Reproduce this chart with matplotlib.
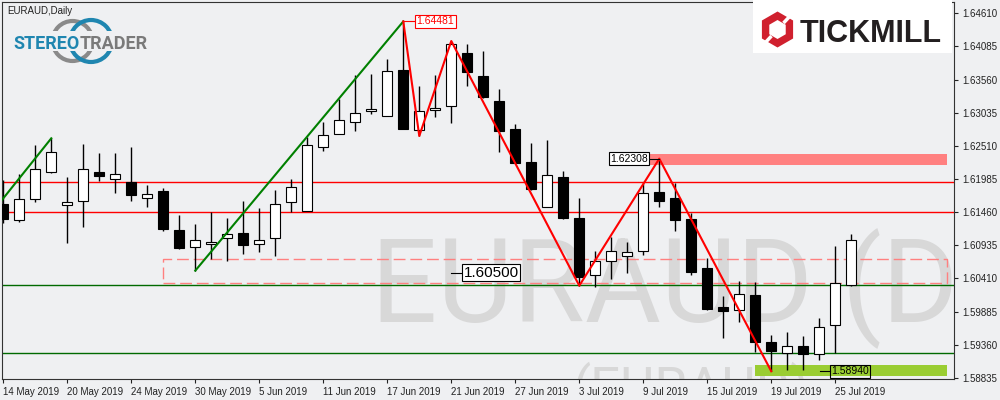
import numpy as np
import matplotlib
matplotlib.use("Agg")
import matplotlib.pyplot as plt
from matplotlib.patches import Rectangle, Circle, RegularPolygon

plt.rcParams['font.family'] = ['Liberation Sans', 'DejaVu Sans']

# EURAUD daily candles, 14 May 2019 .. 26 Jul 2019
opens = [1.61590, 1.61337, 1.61664, 1.62092, 1.61574, 1.61633, 1.62092, 1.61981, 1.61938, 1.61680,
         1.61796, 1.61178, 1.60904, 1.60952, 1.61047, 1.61126, 1.60952, 1.61047, 1.61626, 1.61484,
         1.62497, 1.62694, 1.62884, 1.63068, 1.62988, 1.63712, 1.62762, 1.63083, 1.63137, 1.63981,
         1.63617, 1.63221, 1.62778, 1.62255, 1.61547, 1.62018, 1.61373, 1.60461, 1.60682, 1.60771,
         1.60841, 1.61780, 1.61685, 1.61352, 1.60576, 1.59963, 1.59911, 1.60149, 1.59409, 1.59225,
         1.59336, 1.59210, 1.59669, 1.60307]
highs = [1.61970, 1.62065, 1.62524, 1.62630, 1.62013, 1.62540, 1.62398, 1.62398, 1.62493, 1.61891,
         1.61839, 1.61416, 1.61273, 1.61458, 1.61368, 1.61637, 1.61527, 1.61812, 1.61981, 1.62656,
         1.62893, 1.63248, 1.63633, 1.63649, 1.63882, 1.64481, 1.63459, 1.63633, 1.64171, 1.64129,
         1.64013, 1.63411, 1.62857, 1.62561, 1.62604, 1.62117, 1.61680, 1.60846, 1.61072, 1.60988,
         1.61922, 1.62308, 1.61918, 1.61452, 1.60730, 1.60133, 1.60375, 1.60350, 1.59515, 1.59568,
         1.59499, 1.59780, 1.60930, 1.61115]
lows = [1.61289, 1.61310, 1.61626, 1.62073, 1.60977, 1.61230, 1.61959, 1.61759, 1.61642, 1.61547,
        1.61167, 1.60882, 1.60534, 1.60714, 1.60692, 1.60803, 1.60835, 1.60766, 1.61468, 1.61484,
        1.62429, 1.62694, 1.62751, 1.63015, 1.62988, 1.62773, 1.62667, 1.62972, 1.62877, 1.63463,
        1.63264, 1.62418, 1.62234, 1.61812, 1.61547, 1.61352, 1.60296, 1.60271, 1.60397, 1.60502,
        1.60782, 1.61547, 1.61167, 1.60470, 1.59916, 1.59473, 1.59726, 1.59241, 1.58940, 1.58961,
        1.58961, 1.59119, 1.59235, 1.60296]
closes = [1.61348, 1.61664, 1.62139, 1.62409, 1.61614, 1.62139, 1.62038, 1.62060, 1.61737, 1.61744,
          1.61199, 1.60898, 1.61015, 1.60983, 1.61110, 1.60945, 1.61015, 1.61585, 1.61854, 1.62524,
          1.62683, 1.62920, 1.63026, 1.63094, 1.63691, 1.62773, 1.63058, 1.63110, 1.64119, 1.63685,
          1.63289, 1.62751, 1.62234, 1.61827, 1.62044, 1.61373, 1.60426, 1.60682, 1.60841, 1.60825,
          1.61764, 1.61642, 1.61341, 1.60518, 1.59932, 1.59900, 1.60165, 1.59400, 1.59267, 1.59336,
          1.59210, 1.59637, 1.60334, 1.61020]

date_labels = ["14 May 2019", "20 May 2019", "24 May 2019", "30 May 2019", "5 Jun 2019",
               "11 Jun 2019", "17 Jun 2019", "21 Jun 2019", "27 Jun 2019", "3 Jul 2019",
               "9 Jul 2019", "15 Jul 2019", "19 Jul 2019", "25 Jul 2019"]
date_step = 4
price_ticks = [1.58835, 1.59360, 1.59885, 1.60410, 1.60935, 1.61460,
               1.61985, 1.62510, 1.63035, 1.63560, 1.64085, 1.64610]

# zigzag pivots (bar index, price)
green_zz = [([-1, 3], [1.61363, 1.62630]), ([12, 25], [1.60534, 1.64481])]
red_zz_bars = [25, 26, 28, 36, 41, 48]
red_zz_prices = [1.64481, 1.62667, 1.64171, 1.60296, 1.62308, 1.58940]

red_levels = [1.61933, 1.61463]
green_levels = [1.60302, 1.59229]
zone_dashed = (10, 59, 1.60338, 1.60726)
zone_red = (40.4, 59, 1.62202, 1.62387)
zone_green = (47, 59, 1.58865, 1.59039)

BG = '#eff0f2'
fig = plt.figure(figsize=(10, 4), dpi=100, facecolor=BG)
ax = fig.add_axes([0.002, 0.0525, 0.952, 0.9425], facecolor=BG)

n = len(opens)
x = np.arange(n)
o = np.array(opens); c = np.array(closes)

# watermark
ax.text(22.98, 1.59721, "EURAUD (D1)", family='Roboto', fontsize=84, color='#d8d8d8',
        va='baseline', ha='left', zorder=0.5, clip_on=True)
ax.text(35.6, 1.58407, "(EURAUD)", family='Roboto', fontsize=38, color='#d8d8d8',
        va='baseline', ha='left', zorder=0.5, clip_on=True)

# zones
x0, x1, p0, p1 = zone_dashed
ax.add_patch(Rectangle((x0, p0), x1 - x0, p1 - p0, fill=False, ec='#ff8080', lw=1,
                       ls=(0, (8.5, 3.5)), zorder=1))
x0, x1, p0, p1 = zone_red
ax.add_patch(Rectangle((x0, p0), x1 - x0, p1 - p0, fc='#ff8080', ec='none', zorder=1))
x0, x1, p0, p1 = zone_green
ax.add_patch(Rectangle((x0, p0), x1 - x0, p1 - p0, fc='#9acd32', ec='none', zorder=1))

for lv in red_levels:
    ax.axhline(lv, color='#ff0000', lw=1.0, zorder=1.5)
for lv in green_levels:
    ax.axhline(lv, color='#006a00', lw=1.0, zorder=1.5)

# candles
ax.vlines(x, lows, highs, color='black', lw=1.0, zorder=2)
up = c >= o
ax.bar(x, np.abs(c - o), bottom=np.minimum(o, c), width=0.625,
       color=np.where(up, 'white', 'black'), edgecolor='black', lw=0.8, zorder=3)

# zigzag
for bx, bp in green_zz:
    ax.plot(bx, bp, color='#008000', lw=1.5, zorder=4)
ax.plot(red_zz_bars, red_zz_prices, color='#ff0000', lw=1.5, zorder=4)

# price labels
ax.plot([25, 25.73], [1.64481, 1.64481], color='#ff0000', lw=0.8, zorder=5)
ax.text(25.83, 1.64481, "1.64481", fontsize=7.5, color='#ff0000', va='center', ha='left',
        bbox=dict(boxstyle='square,pad=0.12', fc='white', ec='#ff0000', lw=0.8), zorder=5)
ax.plot([40.36, 41], [1.62308, 1.62308], color='black', lw=0.8, zorder=5)
ax.text(40.27, 1.62308, "1.62308", fontsize=7.5, color='black', va='center', ha='right',
        bbox=dict(boxstyle='square,pad=0.12', fc='white', ec='black', lw=0.8), zorder=5)
ax.plot([28.0, 28.66], [1.60500, 1.60500], color='black', lw=0.8, zorder=5)
ax.text(28.76, 1.60500, "1.60500", fontsize=11, color='black', va='center', ha='left',
        bbox=dict(boxstyle='square,pad=0.1', fc='white', ec='black', lw=0.8), zorder=5)
ax.plot([51.04, 51.66], [1.58940, 1.58940], color='black', lw=0.8, zorder=5)
ax.text(51.75, 1.58940, "1.58940", fontsize=7.5, color='black', va='center', ha='left',
        bbox=dict(boxstyle='square,pad=0.12', fc='none', ec='black', lw=0.8), zorder=5)

# axes
ax.set_xlim(-0.08, 59.42)
ax.set_ylim(1.58818, 1.64789)
ax.set_xticks(np.arange(0, date_step * len(date_labels), date_step))
ax.set_xticklabels(date_labels, ha='left')
ax.yaxis.tick_right()
ax.set_yticks(price_ticks)
ax.set_yticklabels([f"{p:.5f}" for p in price_ticks])
ax.tick_params(axis='both', direction='out', length=3, width=0.8, labelsize=7,
               colors='#222222', pad=3)
for s in ax.spines.values():
    s.set_color('#333333')
    s.set_linewidth(0.8)

# overlay for header logos (pixel coordinates)
ov = fig.add_axes([0, 0, 1, 1], zorder=10)
ov.set_xlim(0, 1000)
ov.set_ylim(400, 0)
ov.axis('off')
ov.patch.set_alpha(0)

ov.text(7, 11, "EURAUD,Daily", fontsize=7, color='#222222', va='center', ha='left')

ov.add_patch(Circle((72.5, 41), 20, fill=False, ec='#8a8a8a', lw=3))
ov.add_patch(Circle((91, 41), 21, fill=False, ec='#1f86b0', lw=3))
ov.add_patch(Rectangle((40, 31), 90, 20, fc=BG, ec='none'))
ov.text(80, 49, "STEREO", family='Roboto', fontweight='bold', fontsize=13, color='#1f86b0',
        va='baseline', ha='right')
ov.text(80, 49, "TRADER", family='Roboto', fontweight='bold', fontsize=13, color='#7a7a7a',
        va='baseline', ha='left')

ov.add_patch(Rectangle((753, 0), 199, 53, fc='white', ec='none'))
ov.add_patch(RegularPolygon((777.5, 29.5), 6, radius=18, orientation=0, fc='#d0202e', ec='none'))
ov.add_patch(RegularPolygon((777.5, 29.5), 6, radius=9.5, orientation=0, fc='white', ec='none'))
ov.plot([783.5, 791], [23, 15], color='white', lw=2.5, solid_capstyle='butt')
ov.plot([771.5, 764], [36, 44], color='white', lw=2.5, solid_capstyle='butt')
ov.text(800, 42, "TICKMILL", fontweight='bold', fontsize=22, color='#231f20',
        va='baseline', ha='left')

fig.savefig("out.png", dpi=100, facecolor=BG)
